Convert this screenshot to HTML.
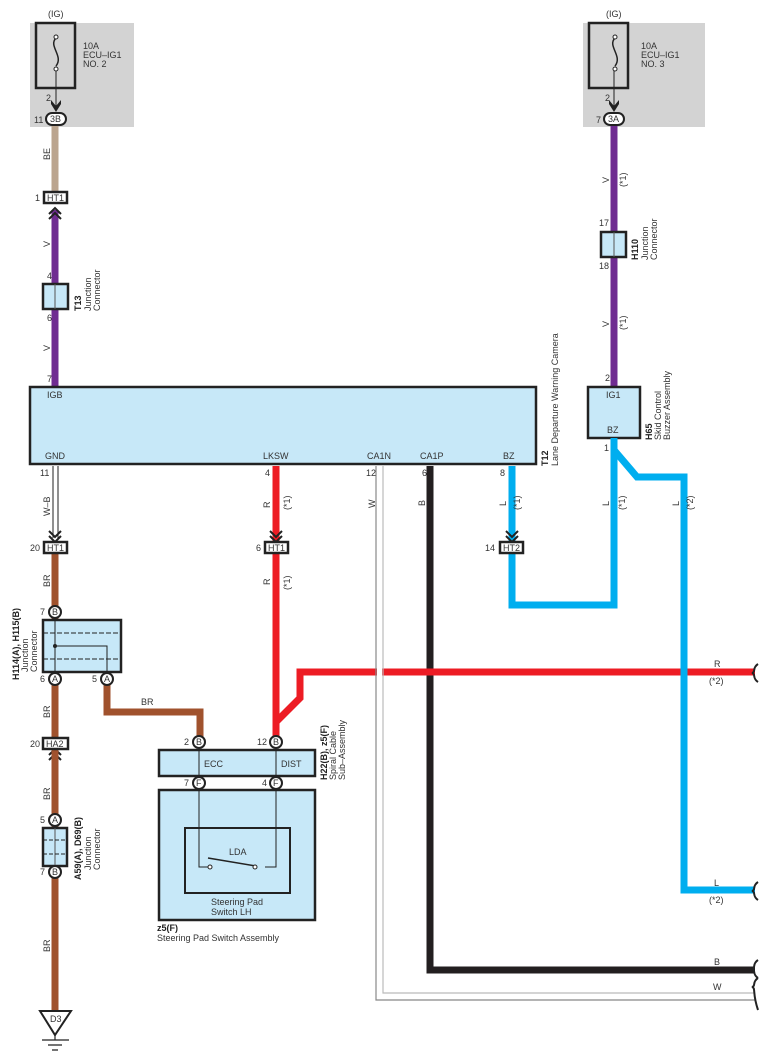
<!DOCTYPE html>
<html><head><meta charset="utf-8"><style>
html,body{margin:0;padding:0;background:#fff;}
svg{display:block;font-family:"Liberation Sans",sans-serif;}
text{font-size:9px;fill:#333;}
.b{font-weight:bold;fill:#222;}
</style></head><body>
<svg width="769" height="1063" viewBox="0 0 769 1063" xmlns="http://www.w3.org/2000/svg">
<!-- fuse boxes -->
<rect x="30" y="23" width="104" height="104" fill="#d3d3d3"/>
<rect x="36" y="23" width="39" height="65" fill="none" stroke="#222" stroke-width="2.5"/>
<path d="M56 38 C48 46,64 56,56 66" fill="none" stroke="#222" stroke-width="1.5"/>
<circle cx="56" cy="37" r="2" fill="#fff" stroke="#222"/><circle cx="56" cy="69" r="2" fill="#fff" stroke="#222"/>
<line x1="56" y1="71" x2="56" y2="106" stroke="#222"/>
<path d="M51 104 L56 112 L61 104 L61 100 L56 106 L51 100Z" fill="#222"/>
<text x="48" y="17">(IG)</text>
<text x="83" y="49">10A</text><text x="83" y="58">ECU–IG1</text><text x="83" y="67">NO. 2</text>
<text x="46" y="101">2</text>
<rect x="46" y="113" width="20" height="12" rx="6" fill="#fff" stroke="#222" stroke-width="2"/>
<text x="50" y="122">3B</text><text x="34" y="123">11</text>

<rect x="583" y="23" width="122" height="104" fill="#d3d3d3"/>
<rect x="589" y="23" width="39" height="65" fill="none" stroke="#222" stroke-width="2.5"/>
<path d="M615 38 C607 46,623 56,615 66" fill="none" stroke="#222" stroke-width="1.5"/>
<circle cx="615" cy="37" r="2" fill="#fff" stroke="#222"/><circle cx="615" cy="69" r="2" fill="#fff" stroke="#222"/>
<line x1="614" y1="71" x2="614" y2="106" stroke="#222"/>
<path d="M609 104 L614 112 L619 104 L619 100 L614 106 L609 100Z" fill="#222"/>
<text x="606" y="17">(IG)</text>
<text x="641" y="49">10A</text><text x="641" y="58">ECU–IG1</text><text x="641" y="67">NO. 3</text>
<text x="605" y="101">2</text>
<rect x="604" y="113" width="20" height="12" rx="6" fill="#fff" stroke="#222" stroke-width="2"/>
<text x="608" y="122">3A</text><text x="596" y="123">7</text>

<!-- left top wires -->
<line x1="55" y1="126" x2="55" y2="192" stroke="#bba58f" stroke-width="7"/>
<line x1="55" y1="210" x2="55" y2="388" stroke="#6f2c91" stroke-width="7"/>
<rect x="44" y="192" width="23" height="11" fill="#fff" stroke="#222" stroke-width="2.5"/>
<text x="47" y="201">HT1</text><text x="35" y="201">1</text>
<path d="M49 214 L55 208 L61 214 M49 219 L55 213 L61 219" fill="none" stroke="#222" stroke-width="2"/>
<rect x="43" y="284" width="25" height="25" fill="#c7e8f8" stroke="#222" stroke-width="2.5"/>
<line x1="55" y1="284" x2="55" y2="309" stroke="#555"/>
<text x="47" y="279">4</text><text x="47" y="321">6</text><text x="47" y="382">7</text>
<text transform="translate(50,160) rotate(-90)">BE</text>
<text transform="translate(50,247) rotate(-90)">V</text>
<text transform="translate(50,351) rotate(-90)">V</text>
<text class="b" transform="translate(81,311) rotate(-90)">T13</text>
<text transform="translate(91,311) rotate(-90)">Junction</text>
<text transform="translate(100,311) rotate(-90)">Connector</text>

<!-- right top wires -->
<line x1="614" y1="126" x2="614" y2="388" stroke="#6f2c91" stroke-width="7"/>
<rect x="601" y="232" width="25" height="25" fill="#c7e8f8" stroke="#222" stroke-width="2.5"/>
<line x1="614" y1="232" x2="614" y2="257" stroke="#555"/>
<text x="599" y="226">17</text><text x="599" y="269">18</text><text x="605" y="381">2</text>
<text transform="translate(609,183) rotate(-90)">V</text>
<text transform="translate(626,187) rotate(-90)">(*1)</text>
<text transform="translate(609,327) rotate(-90)">V</text>
<text transform="translate(626,330) rotate(-90)">(*1)</text>
<text class="b" transform="translate(638,260) rotate(-90)">H110</text>
<text transform="translate(648,260) rotate(-90)">Junction</text>
<text transform="translate(657,260) rotate(-90)">Connector</text>

<!-- T12 -->
<rect x="30" y="387" width="506" height="77" fill="#c7e8f8" stroke="#222" stroke-width="2.5"/>
<text x="47" y="398">IGB</text>
<text x="45" y="459">GND</text><text x="263" y="459">LKSW</text><text x="367" y="459">CA1N</text><text x="420" y="459">CA1P</text><text x="503" y="459">BZ</text>
<text class="b" transform="translate(548,466) rotate(-90)">T12</text>
<text transform="translate(558,466) rotate(-90)">Lane Departure Warning Camera</text>

<!-- H65 -->
<rect x="588" y="387" width="52" height="51" fill="#c7e8f8" stroke="#222" stroke-width="2.5"/>
<text x="606" y="398">IG1</text><text x="607" y="433">BZ</text>
<text class="b" transform="translate(652,440) rotate(-90)">H65</text>
<text transform="translate(661,440) rotate(-90)">Skid Control</text>
<text transform="translate(670,440) rotate(-90)">Buzzer Assembly</text>
<text x="604" y="451">1</text>

<!-- black wire -->
<path d="M430 466 V970 H755" fill="none" stroke="#231f20" stroke-width="7"/>
<!-- red -->
<path d="M276 466 V743" fill="none" stroke="#ed1c24" stroke-width="7"/>
<path d="M276 722 L300 698 V672 H755" fill="none" stroke="#ed1c24" stroke-width="7"/>
<!-- W wire -->
<path d="M376 466 V1000 H755" fill="none" stroke="#888" stroke-width="1.2"/>
<path d="M383 466 V993 H755" fill="none" stroke="#bbb" stroke-width="1.2"/>
<rect x="377" y="665" width="5" height="14" fill="#fff"/>
<!-- blue -->
<path d="M512 466 V605 H614 V438" fill="none" stroke="#00aeef" stroke-width="7"/>
<path d="M614 450 L637 477 H684 V890 H755" fill="none" stroke="#00aeef" stroke-width="7"/>
<!-- break marks -->
<g fill="none" stroke="#222" stroke-width="2">
<path d="M758 664 C752 668,756 672,752 673 C756 674,752 678,758 682"/>
<path d="M758 882 C752 886,756 890,752 891 C756 892,752 896,758 900"/>
<path d="M758 960 C752 964,756 968,752 969 C756 970,752 974,758 978"/>
<path d="M758 978 C752 982,756 986,752 987 C756 988,752 992,758 1010"/>
</g>
<text x="714" y="667">R</text><text x="709" y="684">(*2)</text>
<text x="714" y="886">L</text><text x="709" y="903">(*2)</text>
<text x="714" y="965">B</text><text x="713" y="990">W</text>

<!-- labels on wires top -->
<text x="40" y="476">11</text><text x="265" y="476">4</text><text x="366" y="476">12</text><text x="422" y="476">6</text><text x="500" y="476">8</text>
<text transform="translate(50,516) rotate(-90)">W–B</text>
<text transform="translate(270,508) rotate(-90)">R</text>
<text transform="translate(290,510) rotate(-90)">(*1)</text>
<text transform="translate(375,508) rotate(-90)">W</text>
<text transform="translate(425,506) rotate(-90)">B</text>
<text transform="translate(506,506) rotate(-90)">L</text>
<text transform="translate(520,510) rotate(-90)">(*1)</text>
<text transform="translate(609,506) rotate(-90)">L</text>
<text transform="translate(625,510) rotate(-90)">(*1)</text>
<text transform="translate(679,506) rotate(-90)">L</text>
<text transform="translate(693,510) rotate(-90)">(*2)</text>
<text transform="translate(270,585) rotate(-90)">R</text>
<text transform="translate(290,590) rotate(-90)">(*1)</text>

<!-- GND double line -->
<line x1="53" y1="466" x2="53" y2="538" stroke="#222"/><line x1="58" y1="466" x2="58" y2="538" stroke="#222"/>
<g fill="none" stroke="#222" stroke-width="2">
<path d="M49 531 L55 537 L61 531 M49 536 L55 542 L61 536"/>
<path d="M270 531 L276 537 L282 531 M270 536 L276 542 L282 536"/>
<path d="M506 531 L512 537 L518 531 M506 536 L512 542 L518 536"/>
<path d="M49 755 L55 749 L61 755 M49 760 L55 754 L61 760"/>
</g>
<!-- BR wires -->
<path d="M55 554 V1015" fill="none" stroke="#a0522d" stroke-width="7"/>
<path d="M107 685 V712 H200 V742" fill="none" stroke="#a0522d" stroke-width="7"/>
<rect x="44" y="542" width="23" height="11" fill="#fff" stroke="#222" stroke-width="2.5"/><text x="47" y="551">HT1</text><text x="30" y="551">20</text>
<rect x="265" y="542" width="23" height="11" fill="#fff" stroke="#222" stroke-width="2.5"/><text x="268" y="551">HT1</text><text x="256" y="551">6</text>
<rect x="500" y="542" width="23" height="11" fill="#fff" stroke="#222" stroke-width="2.5"/><text x="503" y="551">HT2</text><text x="485" y="551">14</text>
<rect x="43" y="738" width="25" height="11" fill="#fff" stroke="#222" stroke-width="2.5"/><text x="46" y="747">HA2</text><text x="30" y="747">20</text>
<text transform="translate(50,587) rotate(-90)">BR</text>
<text transform="translate(50,718) rotate(-90)">BR</text>
<text transform="translate(50,800) rotate(-90)">BR</text>
<text transform="translate(50,952) rotate(-90)">BR</text>
<text x="141" y="705">BR</text>

<!-- H114 -->
<rect x="43" y="620" width="78" height="52" fill="#c7e8f8" stroke="#222" stroke-width="2.5"/>
<line x1="43" y1="633" x2="121" y2="633" stroke="#222" stroke-dasharray="5,2"/>
<line x1="43" y1="659" x2="121" y2="659" stroke="#222" stroke-dasharray="5,2"/>
<path d="M55 612 V679 M55 646 H107 V679" fill="none" stroke="#222"/>
<circle cx="55" cy="646" r="2" fill="#222"/>
<text class="b" transform="translate(19,680) rotate(-90)">H114(A), H115(B)</text>
<text transform="translate(28,672) rotate(-90)">Junction</text>
<text transform="translate(37,672) rotate(-90)">Connector</text>
<!-- A59 -->
<rect x="43" y="828" width="24" height="38" fill="#c7e8f8" stroke="#222" stroke-width="2.5"/>
<line x1="55" y1="828" x2="55" y2="866" stroke="#555"/>
<line x1="43" y1="840" x2="67" y2="840" stroke="#222" stroke-dasharray="4,2"/>
<line x1="43" y1="854" x2="67" y2="854" stroke="#222" stroke-dasharray="4,2"/>
<text class="b" transform="translate(81,880) rotate(-90)">A59(A), D69(B)</text>
<text transform="translate(91,870) rotate(-90)">Junction</text>
<text transform="translate(100,870) rotate(-90)">Connector</text>
<!-- H22 & z5 -->
<rect x="159" y="750" width="156" height="26" fill="#c7e8f8" stroke="#222" stroke-width="2.5"/>
<rect x="159" y="790" width="156" height="130" fill="#c7e8f8" stroke="#222" stroke-width="2.5"/>
<rect x="185" y="828" width="105" height="65" fill="none" stroke="#222" stroke-width="2"/>
<path d="M199 742 V867 H209 M276 742 V867 H265" fill="none" stroke="#222"/>
<line x1="208" y1="858" x2="256" y2="866" stroke="#222" stroke-width="1.5"/>
<circle cx="210" cy="867" r="2" fill="#fff" stroke="#222"/><circle cx="255" cy="867" r="2" fill="#fff" stroke="#222"/>
<text x="229" y="855">LDA</text>
<text x="204" y="767">ECC</text><text x="281" y="767">DIST</text>
<text x="211" y="905">Steering Pad</text><text x="211" y="915">Switch LH</text>
<text class="b" x="157" y="931">z5(F)</text><text x="157" y="941">Steering Pad Switch Assembly</text>
<text class="b" transform="translate(327,780) rotate(-90)">H22(B), z5(F)</text>
<text transform="translate(336,780) rotate(-90)">Spiral Cable</text>
<text transform="translate(345,780) rotate(-90)">Sub–Assembly</text>

<!-- pins -->
<g stroke="#222" stroke-width="2" fill="#fff">
<circle cx="55" cy="612" r="6"/><circle cx="55" cy="679" r="6"/><circle cx="107" cy="679" r="6"/>
<circle cx="55" cy="820" r="6"/><circle cx="55" cy="872" r="6"/>
<circle cx="199" cy="742" r="6"/><circle cx="276" cy="742" r="6"/>
<circle cx="199" cy="783" r="6"/><circle cx="276" cy="783" r="6"/>
</g>
<g style="font-size:8px">
<text x="52" y="615">B</text><text x="52" y="682">A</text><text x="104" y="682">A</text>
<text x="52" y="823">A</text><text x="52" y="875">B</text>
<text x="196" y="745">B</text><text x="273" y="745">B</text>
<text x="196" y="786">F</text><text x="273" y="786">F</text>
</g>
<text x="40" y="615">7</text><text x="40" y="682">6</text><text x="92" y="682">5</text>
<text x="40" y="823">5</text><text x="40" y="875">7</text>
<text x="184" y="745">2</text><text x="257" y="745">12</text>
<text x="184" y="786">7</text><text x="262" y="786">4</text>

<!-- ground D3 -->
<path d="M40 1011 H71 L55 1035 Z" fill="#fff" stroke="#222" stroke-width="2"/>
<text x="50" y="1022">D3</text>
<path d="M55 1035 V1040 M42 1040 H69 M48 1045 H62 M52 1050 H58" stroke="#222" stroke-width="1.2"/>
</svg>
</body></html>
